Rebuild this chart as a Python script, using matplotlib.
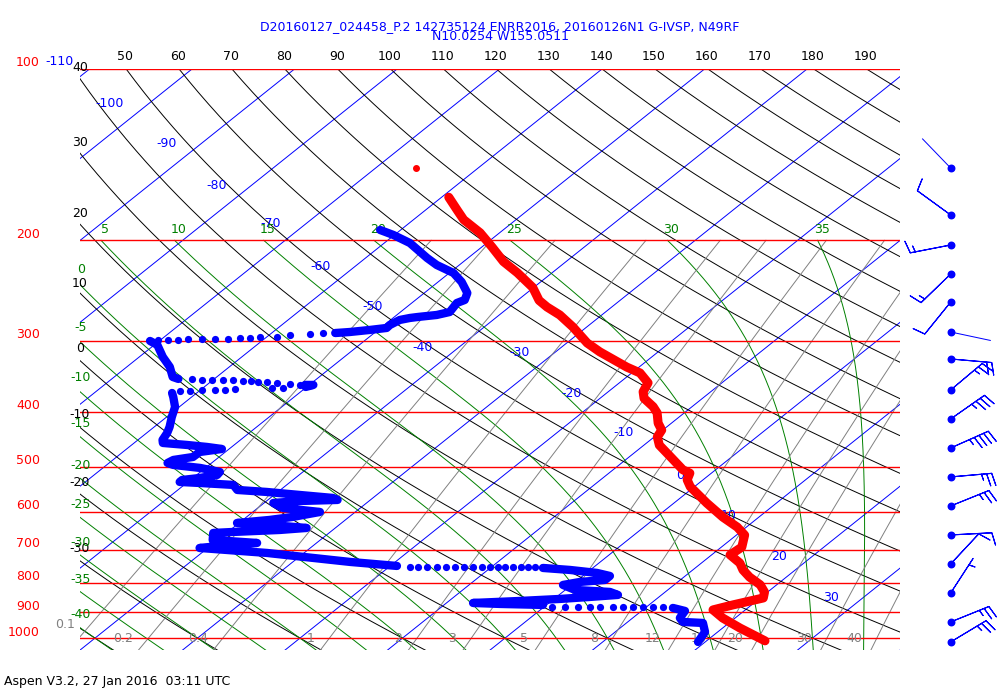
import numpy as np
import matplotlib
matplotlib.use("Agg")
import matplotlib.pyplot as plt

# ---------------- data ----------------
title_line1 = "D20160127_024458_P.2 142735124 ENRR2016, 20160126N1 G-IVSP, N49RF"
title_line2 = "N10.0254 W155.0511"
footer = "Aspen V3.2, 27 Jan 2016  03:11 UTC"

# temperature profile (hPa, degC)
temp_p = [1011, 960, 922, 892, 874, 850, 830, 806, 781, 759, 738, 714, 692, 659, 638, 613,
          579, 542, 527, 513, 506, 480, 458, 443, 431, 419, 402, 392, 379, 369, 356, 342,
          334, 314, 303, 284, 270.5, 262, 255, 242, 228, 218, 205.5, 194, 184, 177, 168]
temp_t = [25.7, 21.7, 18.8, 16.85, 18.2, 20.3, 19.7, 18.4, 16.4, 14.9, 13.75, 11.8, 12.0, 10.8, 9.1, 6.5,
          3.2, -0.4, -1.55, -2.1, -3.2, -6.0, -8.5, -9.7, -10.1, -11.3, -12.65, -13.8, -15.7, -16.6, -17.2, -19.2,
          -21.2, -25.7, -28.0, -31.35, -34.1, -36.3, -37.9, -40.1, -43.4, -46.1, -49.0, -51.9, -55.1, -56.9, -59.3]
temp_dot_p = [149]
temp_dot_t = [-66.1]

# dewpoint profile: dense runs and sparse (dotted) runs, top to bottom
td_run1_p = [191.8, 195.7, 202.2, 214.8, 221.0, 228.2, 236.7, 247.5, 254.6, 257.7, 267.3, 270.5,
             272.7, 273.8, 276.0, 281.7, 285.1, 287.4, 289.8, 291.0]
td_run1_t = [-62.0, -60.1, -57.5, -54.0, -52.2, -49.6, -47.7, -45.8, -45.2, -45.6, -45.2, -46.1,
             -47.7, -48.35, -49.1, -49.45, -49.4, -50.8, -52.5, -53.8]
td_dots1_p = [291.0, 292.1, 293.3, 295.7, 295.7, 296.9, 296.9, 298.1, 298.1, 298.1, 298.1, 299.3, 299.3, 299.3]
td_dots1_t = [-55.0, -56.15, -58.0, -59.0, -60.7, -61.5, -62.5, -63.5, -64.8, -66.1, -67.45, -68.3, -69.3, -70.25]
td_run2_p = [300.5, 305.4, 320.6, 333.8, 347.6, 350.4]
td_run2_t = [-70.9, -69.7, -67.7, -65.8, -64.3, -63.5]
td_dots2_p = [350.4, 351.9, 351.9, 351.9, 351.9, 353.3, 353.3, 354.7, 354.7, 356.2, 357.6, 359.0]
td_dots2_t = [-62.2, -61.1, -60.1, -59.0, -58.05, -56.95, -56.2, -55.4, -54.5, -53.4, -52.0, -50.9]
td_run3_p = [359.0, 359.0, 362.0]
td_run3_t = [-50.4, -49.6, -50.1]
td_dots3_p = [363.4, 363.4, 364.9, 366.4, 366.4, 366.4, 367.9, 367.9]
td_dots3_t = [-52.2, -53.3, -56.75, -57.6, -58.6, -59.85, -60.9, -61.9]
td_run4_p = [370.9, 376.9, 392.5, 408.7, 425.5, 436.0, 448.5, 454.0, 457.7, 461.4, 465.2, 470.9,
             480.5, 486.3, 492.3, 496.2, 502.3, 510.5, 516.7, 523.0, 527.3, 531.6, 533.8, 538.0,
             549.1, 553.5, 560.3, 567.1, 571.7, 574.1, 578.7, 590.6, 600.2, 612.4, 619.9, 627.5,
             632.6, 640.3, 645.5, 650.8, 653.4, 672.2, 680.4, 685.9, 694.3, 708.5, 734.7, 746.7]
td_run4_t = [-62.4, -61.8, -60.4, -59.5, -58.5, -58.0, -57.6, -57.2, -54.6, -52.4, -50.7, -52.5,
             -52.55, -54.1, -54.3, -53.5, -50.5, -48.1, -48.0, -49.3, -50.8, -50.8, -48.7, -45.2,
             -44.2, -41.1, -37.5, -33.9, -33.2, -36.7, -39.1, -37.55, -33.45, -35.5, -37.4, -40.2,
             -36.7, -32.8, -35.15, -39.5, -41.3, -40.5, -35.8, -38.2, -40.8, -33.6, -24.4, -19.35]
td_dots4_p = [750] * 16
td_dots4_t = [-17.96, -17.18, -16.3, -15.32, -14.45, -13.57, -12.69, -11.81, -10.93, -10.15,
              -9.37, -8.69, -7.91, -7.13, -6.45, -5.76]
td_run5_p = [752.8, 758.9, 768.1, 777.6, 790.2, 796.6, 806.4, 822.8, 829.5, 839.6, 846.5, 853.3,
             860.3, 867.3, 870.8, 874.3]
td_run5_t = [-4.86, -1.98, 1.02, 2.65, 2.66, 0.46, -0.83, 0.95, 4.6, 5.75, 3.26, 0.59,
             -3.08, -7.41, -4.66, -0.34]
td_dots5_p = [881] * 11
td_dots5_t = [0.78, 2.04, 3.31, 4.48, 5.46, 6.73, 7.70, 8.68, 9.65, 10.63, 11.60]
td_run6_p = [885.0, 895.8, 921.6, 936.6, 940.4, 975.2, 1015.5]
td_run6_t = [12.7, 14.24, 14.6, 15.39, 17.46, 18.76, 19.3]

# winds (hPa, direction from deg, speed kt)
wind_p = [149.3, 180.5, 203.8, 229.2, 256.7, 289.8, 323.2, 366.4, 412.0, 463.3, 520.9,
          585.8, 658.7, 740.7, 832.9, 936.6, 1015.5]
wind_dir = [316, 306, 259, 226, 219, 102, 95, 50, 55, 66, 85, 68, 87, 43, 33, 68, 59]
wind_spd = [2, 10, 15, 15, 10, 2, 20, 25, 35, 45, 25, 25, 10, 10, 5, 25, 25]

# reference lines and their labels
isobars = [100, 200, 300, 400, 500, 600, 700, 800, 900, 1000]
isotherms = list(range(-170, 50, 10))
iso_label_t = [-110, -100, -90, -80, -70, -60, -50, -40, -30, -20, -10, 0, 10, 20, 30]
iso_label_p = [97, 115, 135, 160, 187, 222, 261, 309, 315, 371, 436, 517, 608, 720, 847]
dry_thetas = list(range(-40, 200, 10))
top_theta_labels = list(range(50, 200, 10))
left_theta_labels = [40, 30, 20, 10, 0, -10, -20, -30]
left_theta_label_p = [99.2, 134.4, 179.1, 237.7, 310.4, 405.4, 533.8, 697.0]
moist_tw = list(range(-40, 40, 5))
top_moist_labels = [5, 10, 15, 20, 25, 30, 35]
left_moist_labels = [0, -5, -10, -15, -20, -25, -30, -35, -40]
left_moist_label_p = [225.5, 285.1, 349.0, 420.4, 498.3, 583.5, 680.4, 790.3, 910.4]
mix_ratios = [0.1, 0.2, 0.4, 1, 2, 3, 5, 8, 12, 16, 20, 30, 40]
mix_label_text = ["0.1", "0.2", "0.4", "1", "2", "3", "5", "8", "12", "16", "20", "30", "40"]
mix_label_p = [948, 1000, 1000, 1000, 1000, 1000, 1000, 1000, 1000, 1000, 1000, 1000, 1000]

# ---------------- geometry ----------------
K_SKEW = 30.17
KAPPA = 0.2874
X_MIN, X_MAX = -41.46, 38.54
P_TOP, P_BOT = 100.0, 1050.0
BLUE, RED, GREEN, GRAY = "#0000ff", "#ff0000", "#008000", "#808080"
FS = 9


def skew_x(t, p):
    return np.asarray(t, float) + K_SKEW * np.log(1000.0 / np.asarray(p, float))


def sat_vp(tk):
    return 6.112 * np.exp(17.67 * (tk - 273.15) / (tk - 29.65))


def dtdp(tk, p):
    Rd, Cp, eps = 287.04, 1005.7, 0.622
    Lv = 2.501e6 - 2370.0 * (tk - 273.15)
    es = sat_vp(tk)
    rs = eps * es / (p - es)
    return (Rd * tk + Lv * rs) / (Cp + Lv * Lv * rs * eps / (Rd * tk * tk)) / p


def moist_profile(tw, p_arr):
    tk = np.asarray(tw, float) + 273.15
    out = [tk.copy()]
    for i in range(1, len(p_arr)):
        p0, p1 = p_arr[i - 1], p_arr[i]
        h = p1 - p0
        k1 = dtdp(tk, p0)
        k2 = dtdp(tk + 0.5 * h * k1, p0 + 0.5 * h)
        k3 = dtdp(tk + 0.5 * h * k2, p0 + 0.5 * h)
        k4 = dtdp(tk + h * k3, p1)
        tk = tk + h * (k1 + 2 * k2 + 2 * k3 + k4) / 6.0
        out.append(tk.copy())
    return np.array(out) - 273.15


def mix_td(w, p):
    e = w * p / (622.0 + w)
    a = np.log(e / 6.112)
    return 243.5 * a / (17.67 - a)


fig = plt.figure(figsize=(10, 7), dpi=100)
ax_bottom = 1 - 650.2 / 700
ax_height = (650.2 - 69) / 700
ax = fig.add_axes([0.08, ax_bottom, 0.82, ax_height])
ax.set_yscale("log")
ax.set_xlim(X_MIN, X_MAX)
ax.set_ylim(P_BOT, P_TOP)
ax.axis("off")

lw_bg = 0.7
# isotherms
pp2 = np.array([P_BOT, P_TOP])
for t in isotherms:
    ax.plot(skew_x(t, pp2), pp2, color=BLUE, lw=lw_bg, zorder=1)

# dry adiabats
pgrid = np.geomspace(P_TOP, P_BOT, 300)
for th in dry_thetas:
    tt = (th + 273.15) * (pgrid / 1000.0) ** KAPPA - 273.15
    ax.plot(skew_x(tt, pgrid), pgrid, color="black", lw=lw_bg, zorder=1)

# moist adiabats (200 - 1050 hPa)
p_up = np.linspace(1000, 200, 801)
p_dn = np.linspace(1000, 1050, 51)
m_up = moist_profile(moist_tw, p_up)
m_dn = moist_profile(moist_tw, p_dn)
for j, tw in enumerate(moist_tw):
    pm = np.concatenate([p_dn[::-1], p_up[1:]])
    tm = np.concatenate([m_dn[::-1, j], m_up[1:, j]])
    ax.plot(skew_x(tm, pm), pm, color=GREEN, lw=lw_bg, zorder=1)

# mixing ratio lines
pmix = np.geomspace(200, P_BOT, 100)
for w in mix_ratios:
    ax.plot(skew_x(mix_td(w, pmix), pmix), pmix, color=GRAY, lw=lw_bg, zorder=1)

# isobars
for p in isobars:
    ax.axhline(p, color=RED, lw=1.0, zorder=1.5)
    ax.annotate(str(p), xy=(0, p), xycoords=ax.get_yaxis_transform(), xytext=(-40, 6),
                textcoords="offset pixels", ha="right", va="center", color=RED, fontsize=FS,
                annotation_clip=False)

# isotherm labels
for t, p in zip(iso_label_t, iso_label_p):
    ax.annotate(str(t), xy=(skew_x(t, p), p), xytext=(-25, 0), textcoords="offset pixels",
                ha="right", va="center", color=BLUE, fontsize=FS, annotation_clip=False)

# dry adiabat labels (top)
for th in top_theta_labels:
    t100 = (th + 273.15) * 0.1 ** KAPPA - 273.15
    ax.annotate(str(th), xy=(skew_x(t100, 100.0), 100.0), xytext=(-1, 12), textcoords="offset pixels",
                ha="center", va="center", color="black", fontsize=FS, annotation_clip=False)
for th, p in zip(left_theta_labels, left_theta_label_p):
    ax.annotate(str(th), xy=(X_MIN, p), ha="center", va="center", color="black", fontsize=FS,
                annotation_clip=False)

# moist adiabat labels
for tw in top_moist_labels:
    j = moist_tw.index(tw)
    ax.annotate(str(tw), xy=(skew_x(m_up[-1, j], 200.0), 200.0), xytext=(4, 11),
                textcoords="offset pixels", ha="center", va="center", color=GREEN, fontsize=FS,
                annotation_clip=False)
for tw, p in zip(left_moist_labels, left_moist_label_p):
    ax.annotate(str(tw), xy=(X_MIN, p), xytext=(1, 0), textcoords="offset pixels",
                ha="center", va="center", color=GREEN, fontsize=FS, annotation_clip=False)

# mixing ratio labels
for w, txt, p in zip(mix_ratios, mix_label_text, mix_label_p):
    ax.annotate(txt, xy=(skew_x(mix_td(w, p), p), p), xytext=(-15, 0), textcoords="offset pixels",
                ha="right", va="center", color=GRAY, fontsize=FS, annotation_clip=False)

# temperature trace
ax.plot(skew_x(temp_t, temp_p), temp_p, color=RED, lw=6.5, solid_capstyle="round",
        solid_joinstyle="round", zorder=4)
ax.plot(skew_x(temp_dot_t, temp_dot_p), temp_dot_p, "o", color=RED, ms=4, zorder=4)

# dewpoint trace
for rp, rt in [(td_run1_p, td_run1_t), (td_run2_p, td_run2_t), (td_run3_p, td_run3_t),
               (td_run4_p, td_run4_t), (td_run5_p, td_run5_t), (td_run6_p, td_run6_t)]:
    ax.plot(skew_x(rt, rp), rp, color=BLUE, lw=6.0, solid_capstyle="round",
            solid_joinstyle="round", zorder=4)
for dp, dt in [(td_dots1_p, td_dots1_t), (td_dots2_p, td_dots2_t), (td_dots3_p, td_dots3_t),
               (td_dots4_p, td_dots4_t), (td_dots5_p, td_dots5_t)]:
    ax.plot(skew_x(dt, dp), dp, "o", color=BLUE, ms=5.2, mec="none", zorder=4)

# wind barbs
axw = fig.add_axes([0.90, ax_bottom, 0.10, ax_height])
axw.set_yscale("log")
axw.set_xlim(0, 1)
axw.set_ylim(P_BOT, P_TOP)
axw.axis("off")
wd = np.radians(np.array(wind_dir, float))
ws = np.array(wind_spd, float)
wp = np.array(wind_p, float)
xb = np.full(len(wp), 0.507)
calm = ws < 5
u = -ws * np.sin(wd)
v = -ws * np.cos(wd)
axw.barbs(xb[~calm], wp[~calm], u[~calm], v[~calm], length=7.7, color=BLUE, linewidth=0.8,
          sizes=dict(height=0.3, spacing=0.125, width=0.15, emptybarb=0.0), clip_on=False)
staff = 41.0
axw.quiver(xb[calm], wp[calm], staff * np.sin(wd[calm]), staff * np.cos(wd[calm]), angles="uv",
           scale_units="dots", scale=1, units="dots", width=1.0, headwidth=0, headlength=0,
           headaxislength=0, color=BLUE, pivot="tail", clip_on=False)
axw.scatter(xb, wp, s=22, color=BLUE, zorder=5, clip_on=False)

# titles
fig.text(0.5, 1 - 27 / 700, title_line1, ha="center", va="center", color=BLUE, fontsize=FS)
fig.text(0.5, 1 - 36.5 / 700, title_line2, ha="center", va="center", color=BLUE, fontsize=FS)
fig.text(0.004, 1 - 681 / 700, footer, ha="left", va="center", color="black", fontsize=FS)

fig.savefig("out.png", dpi=100)
